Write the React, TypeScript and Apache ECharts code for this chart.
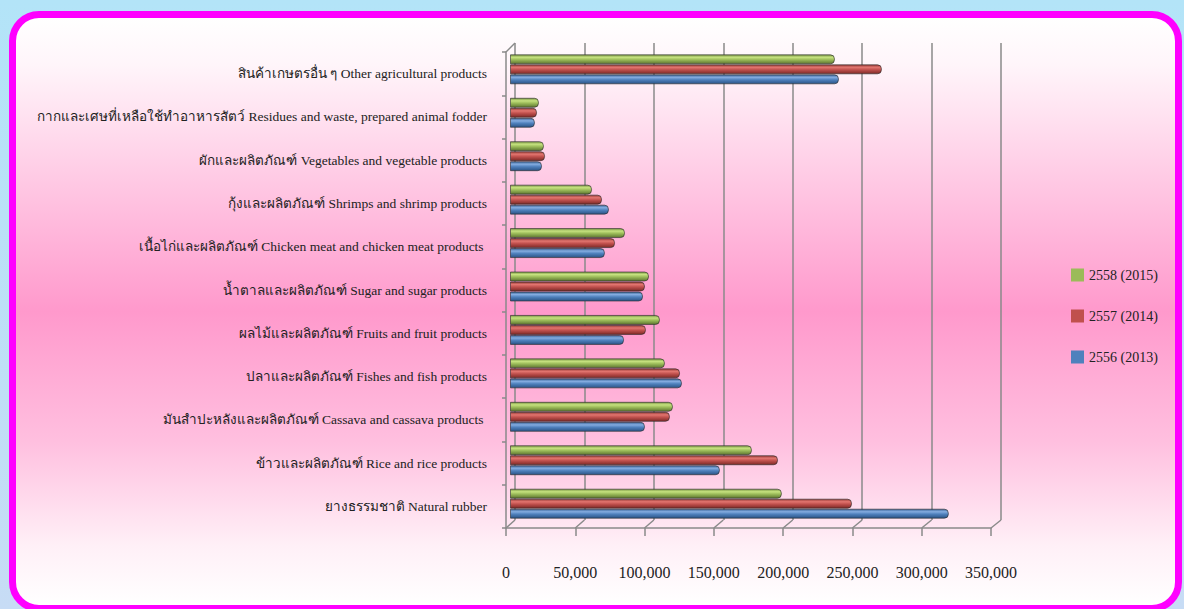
import React, { useEffect, useRef } from 'react';
import * as echarts from 'echarts';

const categories = [
  'สินค้าเกษตรอื่น ๆ Other agricultural products',
  'กากและเศษที่เหลือใช้ทำอาหารสัตว์ Residues and waste, prepared animal fodder',
  'ผักและผลิตภัณฑ์ Vegetables and vegetable products',
  'กุ้งและผลิตภัณฑ์ Shrimps and shrimp products',
  'เนื้อไก่และผลิตภัณฑ์ Chicken meat and chicken meat products ',
  'น้ำตาลและผลิตภัณฑ์ Sugar and sugar products',
  'ผลไม้และผลิตภัณฑ์ Fruits and fruit products',
  'ปลาและผลิตภัณฑ์ Fishes and fish products',
  'มันสำปะหลังและผลิตภัณฑ์ Cassava and cassava products ',
  'ข้าวและผลิตภัณฑ์ Rice and rice products',
  'ยางธรรมชาติ Natural rubber',
];

const seriesNames = ['2558 (2015)', '2557 (2014)', '2556 (2013)'];

const values2015 = [234500, 20900, 24500, 59200, 83000, 100300, 108200, 111800, 117600, 174600, 196200];
const values2014 = [268400, 19500, 25300, 66400, 75800, 97400, 98100, 122700, 115400, 193400, 246800];
const values2013 = [237400, 18000, 23100, 71400, 68500, 96000, 82300, 124100, 97400, 151500, 316700];

const axisMax = 350000;
const axisInterval = 50000;

const FONT = "'Liberation Serif', 'Times New Roman', 'DejaVu Serif', serif";
const LINE = '#8a8a8a';

const GRID_BACK = { left: 515, top: 43, width: 486, height: 477 };
const GRID_FRONT = { left: 506, top: 52, width: 485, height: 476 };
const GRID_BARS = { left: 510, top: 47.6, width: 485, height: 477.8 };

function cyl(dark: string, light: string, mid: string, deep: string) {
  return new echarts.graphic.LinearGradient(0, 0, 0, 1, [
    { offset: 0, color: dark },
    { offset: 0.28, color: light },
    { offset: 0.55, color: mid },
    { offset: 1, color: deep },
  ]);
}

export default function App() {
  const ref = useRef<HTMLDivElement>(null);

  useEffect(() => {
    document.body.style.margin = '0';
    if (!ref.current) return;
    const chart = echarts.init(ref.current, undefined, { renderer: 'svg' });

    const flat = ['#9bbb59', '#c0504d', '#4f81bd'];
    const grads = [
      cyl('#7a9644', '#c6e27f', '#9bbb59', '#5d7530'),
      cyl('#983b38', '#e2756f', '#c0504d', '#7d2a27'),
      cyl('#3a6497', '#84ace0', '#4f81bd', '#2b5385'),
    ];
    const dataSets = [values2015, values2014, values2013];

    const hiddenAxis = {
      axisLine: { show: false },
      axisTick: { show: false },
      axisLabel: { show: false },
      splitLine: { show: false },
    };

    chart.setOption({
      animation: false,
      backgroundColor: 'transparent',
      grid: [
        { ...GRID_BACK, containLabel: false, outerBoundsMode: 'none' },
        { ...GRID_FRONT, containLabel: false, outerBoundsMode: 'none' },
        { ...GRID_BARS, containLabel: false, outerBoundsMode: 'none' },
      ],
      xAxis: [
        {
          gridIndex: 0,
          type: 'value',
          min: 0,
          max: axisMax,
          interval: axisInterval,
          ...hiddenAxis,
          splitLine: { show: true, lineStyle: { color: LINE, width: 1.5 } },
        },
        {
          gridIndex: 1,
          type: 'value',
          min: 0,
          max: axisMax,
          interval: axisInterval,
          axisLine: { show: true, lineStyle: { color: LINE, width: 1.5 } },
          axisTick: { show: true, length: 8, lineStyle: { color: LINE, width: 1.5 } },
          splitLine: { show: false },
          axisLabel: {
            show: true,
            margin: 36,
            fontFamily: FONT,
            fontSize: 16,
            color: '#222',
            formatter: (v: number) => v.toLocaleString('en-US'),
          },
        },
        {
          gridIndex: 2,
          type: 'value',
          min: 0,
          max: axisMax,
          interval: axisInterval,
          ...hiddenAxis,
        },
      ],
      yAxis: [
        { gridIndex: 0, type: 'category', data: categories, inverse: true, ...hiddenAxis },
        {
          gridIndex: 1,
          type: 'category',
          data: categories,
          inverse: true,
          axisLine: { show: true, lineStyle: { color: LINE, width: 1.5 } },
          axisTick: { show: true, length: 4, lineStyle: { color: LINE, width: 1.5 } },
          splitLine: { show: false },
          axisLabel: {
            show: true,
            margin: 19,
            fontFamily: FONT,
            fontSize: 13.5,
            color: '#222',
          },
        },
        { gridIndex: 2, type: 'category', data: categories, inverse: true, ...hiddenAxis },
      ],
      legend: {
        orient: 'vertical',
        left: 1066,
        top: 263,
        itemWidth: 13,
        itemHeight: 13,
        itemGap: 27,
        icon: 'rect',
        textStyle: { fontFamily: FONT, fontSize: 14, color: '#222' },
        data: seriesNames.map((n, i) => ({ name: n, itemStyle: { color: flat[i], borderWidth: 0 } })),
      },
      series: seriesNames.map((name, i) => ({
        name,
        type: 'bar',
        xAxisIndex: 2,
        yAxisIndex: 2,
        data: dataSets[i],
        barWidth: 10,
        barGap: '0%',
        color: flat[i],
        itemStyle: {
          color: grads[i],
          borderColor: 'rgba(40,40,40,0.6)',
          borderWidth: 1,
          borderRadius: [0, 4, 4, 0],
        },
      })),
    });

    // 3D frame diagonals (floor edges from front ticks to back grid lines)
    const lines: any[] = [];
    const floorFrontY = GRID_FRONT.top + GRID_FRONT.height;
    const floorBackY = GRID_BACK.top + GRID_BACK.height;
    for (let v = 0; v <= axisMax; v += axisInterval) {
      const xf = chart.convertToPixel({ xAxisIndex: 1 }, v) as number;
      const xb = chart.convertToPixel({ xAxisIndex: 0 }, v) as number;
      lines.push({
        type: 'line',
        shape: { x1: xf, y1: floorFrontY, x2: xb, y2: floorBackY },
        style: { stroke: LINE, lineWidth: 1.5 },
        silent: true,
      });
    }
    const x0f = chart.convertToPixel({ xAxisIndex: 1 }, 0) as number;
    const x0b = chart.convertToPixel({ xAxisIndex: 0 }, 0) as number;
    lines.push({
      type: 'line',
      shape: { x1: x0f, y1: GRID_FRONT.top, x2: x0b, y2: GRID_BACK.top },
      style: { stroke: LINE, lineWidth: 1.5 },
      silent: true,
    });
    chart.setOption({ graphic: lines });

    return () => chart.dispose();
  }, []);

  return (
    <div
      style={{
        position: 'relative',
        width: 1184,
        height: 609,
        overflow: 'hidden',
        background: 'linear-gradient(to bottom, #b3e4f8, #c7dcf5)',
      }}
    >
      <div
        style={{
          position: 'absolute',
          left: 8.5,
          top: 10.5,
          width: 1173.5,
          height: 601,
          boxSizing: 'border-box',
          border: '7.5px solid #ff00ff',
          borderRadius: 30,
          background:
            'linear-gradient(to bottom, #ffffff 0%, #fff5fa 8%, #ffcde6 26%, #ff99cc 50%, #ffbfdf 72%, #fff0f7 90%, #ffffff 100%)',
        }}
      />
      <div ref={ref} style={{ position: 'absolute', left: 0, top: 0, width: 1184, height: 609 }} />
    </div>
  );
}
